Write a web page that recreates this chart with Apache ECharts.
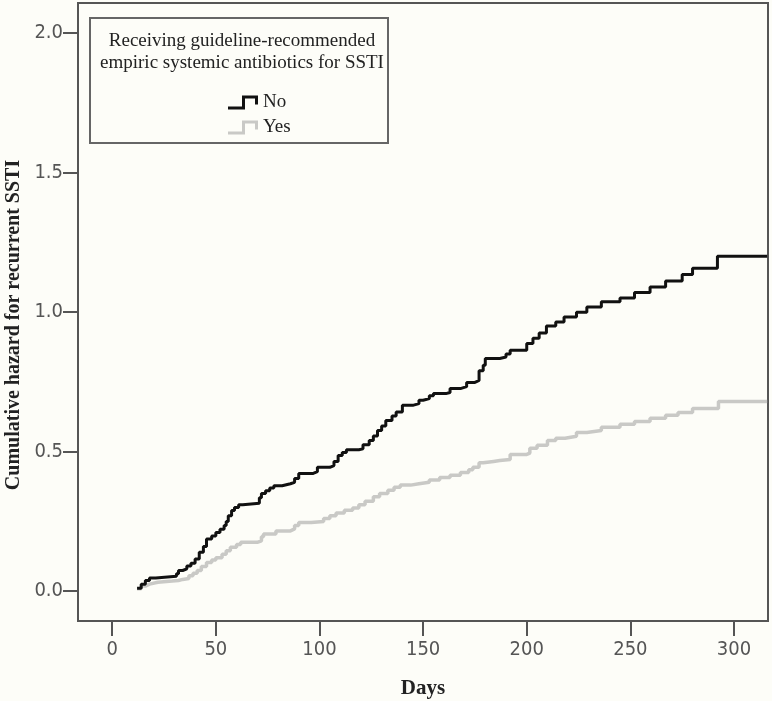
<!DOCTYPE html>
<html>
<head>
<meta charset="utf-8">
<script src="https://cdn.jsdelivr.net/npm/echarts@6/dist/echarts.min.js"></script>
<style>
html,body{margin:0;padding:0;background:#fdfdf8;}
#chart{width:772px;height:701px;}
</style>
</head>
<body>
<div id="chart"></div>
<script>
// Data (days, cumulative hazard)
const noDays =   [12,14,16,18,21,31,32,34,36,38,40,42,44,45.5,48,50,52,54,55,56,57.6,59,61,63,71,72,74,76,78,82,86,88,90,97,99,105,107,109,111,113,119,121,124,126,128,130,132,135,137,140,145,148,150,153,155,161,163,168,171,175,177,179,180,187,190,192,200,203,206,209.5,214,218,224,229,236,245,252,259.5,267,275,280,292,316];
const noHazard = [0.01,0.025,0.038,0.047,0.053,0.062,0.074,0.08,0.09,0.1,0.115,0.139,0.16,0.187,0.198,0.21,0.222,0.235,0.25,0.27,0.289,0.3,0.31,0.315,0.335,0.35,0.36,0.37,0.378,0.385,0.39,0.404,0.422,0.428,0.444,0.45,0.465,0.486,0.497,0.507,0.51,0.525,0.54,0.556,0.576,0.592,0.612,0.628,0.642,0.666,0.672,0.684,0.69,0.7,0.708,0.712,0.726,0.733,0.748,0.755,0.79,0.81,0.834,0.839,0.85,0.863,0.888,0.906,0.925,0.95,0.965,0.983,1.0,1.018,1.037,1.051,1.07,1.09,1.112,1.135,1.157,1.2,1.2];
const yesDays =   [12,14,16,18,22,29,32,34,37,39,41,43,45.5,48,50,53,55,57,60,62,70,72,73,79,86,88,90,96,102,105,108,112,116,119,122,126,129,133,136,139,144,148,153,158,163,168,172,174,177,179,184,187,192,200,201.5,205,210,214,218.5,224,229,236,245,252,259.5,267,273,280,292.5,316];
const yesHazard = [0.009,0.018,0.025,0.032,0.036,0.038,0.042,0.045,0.055,0.064,0.074,0.088,0.103,0.112,0.12,0.132,0.145,0.157,0.167,0.175,0.18,0.195,0.205,0.216,0.223,0.235,0.246,0.25,0.26,0.27,0.28,0.29,0.298,0.31,0.322,0.338,0.35,0.362,0.372,0.38,0.385,0.39,0.398,0.407,0.415,0.425,0.435,0.444,0.46,0.465,0.468,0.472,0.49,0.495,0.512,0.523,0.54,0.548,0.555,0.569,0.576,0.587,0.598,0.608,0.62,0.63,0.64,0.655,0.68,0.68];
const xTicks = [0,50,100,150,200,250,300];
const yTicks = [0,0.5,1.0,1.5,2.0];
const seriesNames = ['No','Yes'];
const legendTitle = ['Receiving guideline-recommended','empiric systemic antibiotics for SSTI'];

const zip = (a,b) => a.map((v,i)=>[v,b[i]]);
const stepIcon = 'path://M0,11 L14,11 L14,0 L30,0 L30,9 L27,9 L27,3 L17,3 L17,14 L0,14 Z';
const serif = '"Liberation Serif","Times New Roman",serif';
const narrow = '"DejaVu Sans Condensed","Liberation Sans Narrow",sans-serif';

const chart = echarts.init(document.getElementById('chart'));
chart.setOption({
  backgroundColor: '#fdfdf8',
  animation: false,
  grid: {left: 78, top: 3, right: 4, bottom: 80, show: true, borderColor: '#555', borderWidth: 2, backgroundColor: 'transparent', containLabel: false, outerBoundsMode: 'none'},
  xAxis: {
    type: 'value', min: -16.5, max: 316.4,
    name: 'Days', nameLocation: 'middle', nameGap: 57,
    nameTextStyle: {fontFamily: serif, fontWeight: 'bold', fontSize: 21, color: '#222'},
    axisLine: {show: false, onZero: false},
    splitLine: {show: false},
    axisTick: {show: true, length: 15, lineStyle: {color: '#555', width: 2}, customValues: xTicks},
    axisLabel: {margin: 19, fontFamily: narrow, fontSize: 20, color: '#555', customValues: xTicks, formatter: v => String(v)}
  },
  yAxis: {
    type: 'value', min: -0.107, max: 2.108,
    name: 'Cumulative hazard for recurrent SSTI', nameLocation: 'middle', nameGap: 51,
    nameTextStyle: {fontFamily: serif, fontWeight: 'bold', fontSize: 20, color: '#222', padding: [0,26,0,0]},
    axisLine: {show: false, onZero: false},
    splitLine: {show: false},
    axisTick: {show: true, length: 15, lineStyle: {color: '#555', width: 2}, customValues: yTicks},
    axisLabel: {margin: 15, fontFamily: narrow, fontSize: 20, color: '#555', customValues: yTicks, formatter: v => v.toFixed(1)}
  },
  legend: {
    orient: 'vertical', left: 223, top: 88, itemWidth: 30, itemHeight: 14, itemGap: 6,
    data: [{name: seriesNames[0], icon: stepIcon}, {name: seriesNames[1], icon: stepIcon}],
    textStyle: {fontFamily: serif, fontSize: 19, color: '#222', lineHeight: 19},
    selectedMode: false
  },
  graphic: [
    {type: 'rect', shape: {x: 90, y: 18, width: 298, height: 125}, style: {fill: 'transparent', stroke: '#666', lineWidth: 2}, z: 10},
    {type: 'text', x: 242, y: 41, style: {text: legendTitle[0], font: '19px ' + serif, fill: '#222', align: 'center', verticalAlign: 'middle'}, z: 10},
    {type: 'text', x: 242, y: 63, style: {text: legendTitle[1], font: '19px ' + serif, fill: '#222', align: 'center', verticalAlign: 'middle'}, z: 10}
  ],
  series: [
    {name: seriesNames[0], type: 'line', step: 'end', showSymbol: false, symbol: 'none', data: zip(noDays, noHazard),
     lineStyle: {color: '#111', width: 3}, itemStyle: {color: '#111'}, z: 3},
    {name: seriesNames[1], type: 'line', step: 'end', showSymbol: false, symbol: 'none', data: zip(yesDays, yesHazard),
     lineStyle: {color: '#c9c9c6', width: 3.5}, itemStyle: {color: '#c9c9c6'}, z: 2}
  ]
});
</script>
</body>
</html>
